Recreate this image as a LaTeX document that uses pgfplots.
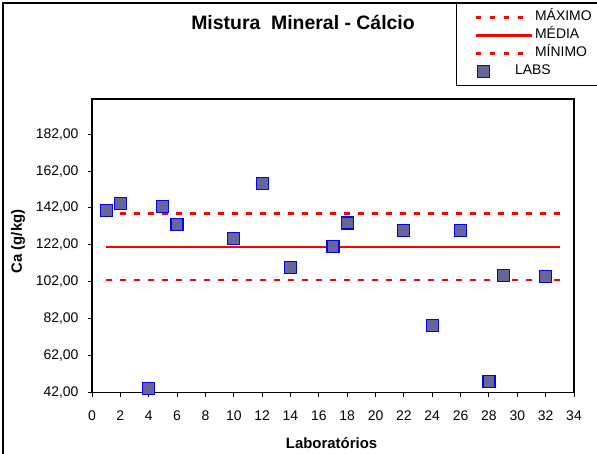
\documentclass[border=0pt]{standalone}
\usepackage{fontspec}
\setmainfont{Liberation Sans}
\usepackage{pgfplots}
\pgfplotsset{compat=1.18}

\definecolor{labfill}{RGB}{102,102,153}
\definecolor{labedge}{RGB}{0,0,255}
\definecolor{limred}{RGB}{255,0,0}

\pgfplotsset{
    linelegend/.style={legend image code/.code={\draw[##1] (0bp,0bp) -- (56bp,0bp);}},
    marklegend/.style={legend image code/.code={\draw[##1] plot coordinates {(8bp,0bp)};}},
}

\begin{document}
\begin{tikzpicture}
\useasboundingbox (0,0) rectangle (597bp,454bp);
% moldura do gráfico (só esquerda e topo aparecem)
\draw[line width=1.2bp] (3bp,-5bp) -- (3bp,451bp) -- (605bp,451bp);

\begin{axis}[
    at={(92bp,61.3bp)}, anchor=south west,
    scale only axis,
    width=482bp, height=293.7bp,
    xmin=0, xmax=34, ymin=42, ymax=201,
    xtick={0,2,...,34},
    ytick={42,62,...,182},
    tick pos=left, tick align=outside,
    major tick length=4bp,
    every tick/.style={black, line width=1bp},
    axis line style={line width=1.4bp},
    /pgf/number format/assume math mode=true,
    ticklabel style={font=\fontsize{14}{16}\selectfont},
    xticklabel style={yshift=-11bp},
    yticklabel style={xshift=-6bp, /pgf/number format/.cd, fixed, fixed zerofill, precision=2, use comma},
    xlabel={\textbf{Laboratórios}},
    ylabel={\textbf{Ca (g/kg)}},
    xlabel style={font=\fontsize{15}{17}\selectfont, at={(axis description cs:0.497,-0.173)}, anchor=center},
    ylabel style={font=\fontsize{15}{17}\selectfont, at={(axis description cs:-0.1535,0.515)}, anchor=center},
    title={\textbf{Mistura\ \ Mineral - Cálcio}},
    title style={font=\fontsize{19.5}{22}\selectfont, at={(axis description cs:0.4378,1.2418)}, anchor=center},
    legend cell align=left,
    legend style={at={(axis description cs:0.7552,1.3269)}, anchor=north west,
        draw=black, line width=1bp, font=\fontsize{14}{16}\selectfont,
        inner xsep=18bp, inner ysep=5bp, row sep=0bp,
        nodes={text height=10bp, text depth=3bp, inner ysep=2.5bp}},
    clip=false,
]

% limite superior
\addplot[limred, line width=2.6bp, dash pattern=on 5.5bp off 8.5bp, linelegend]
    coordinates {(1,139.0) (33,139.0)};
\addlegendentry{MÁXIMO}

% média
\addplot[limred, line width=2.2bp, linelegend]
    coordinates {(1,120.9) (33,120.9)};
\addlegendentry{MÉDIA}

% limite inferior
\addplot[limred, line width=2.6bp, dash pattern=on 5.5bp off 8.5bp, linelegend]
    coordinates {(1,103.1) (33,103.1)};
\addlegendentry{MÍNIMO}

% resultados dos laboratórios
\addplot[only marks, mark=square*, mark size=6bp,
    mark options={fill=labfill, draw=labedge, line width=1.2bp}, marklegend]
    coordinates {
    (1,140.8) (2,144.4) (4,44.4) (5,142.8) (6,133.2) (10,125.5)
    (12,155.2) (14,109.6) (17,121.3) (18,133.9) (22,129.6) (24,78.2)
    (26,129.6) (28,47.9) (29,105.5) (32,104.7)
    };
\addlegendentry{\hspace*{-20bp}LABS}

\end{axis}
\end{tikzpicture}
\end{document}
